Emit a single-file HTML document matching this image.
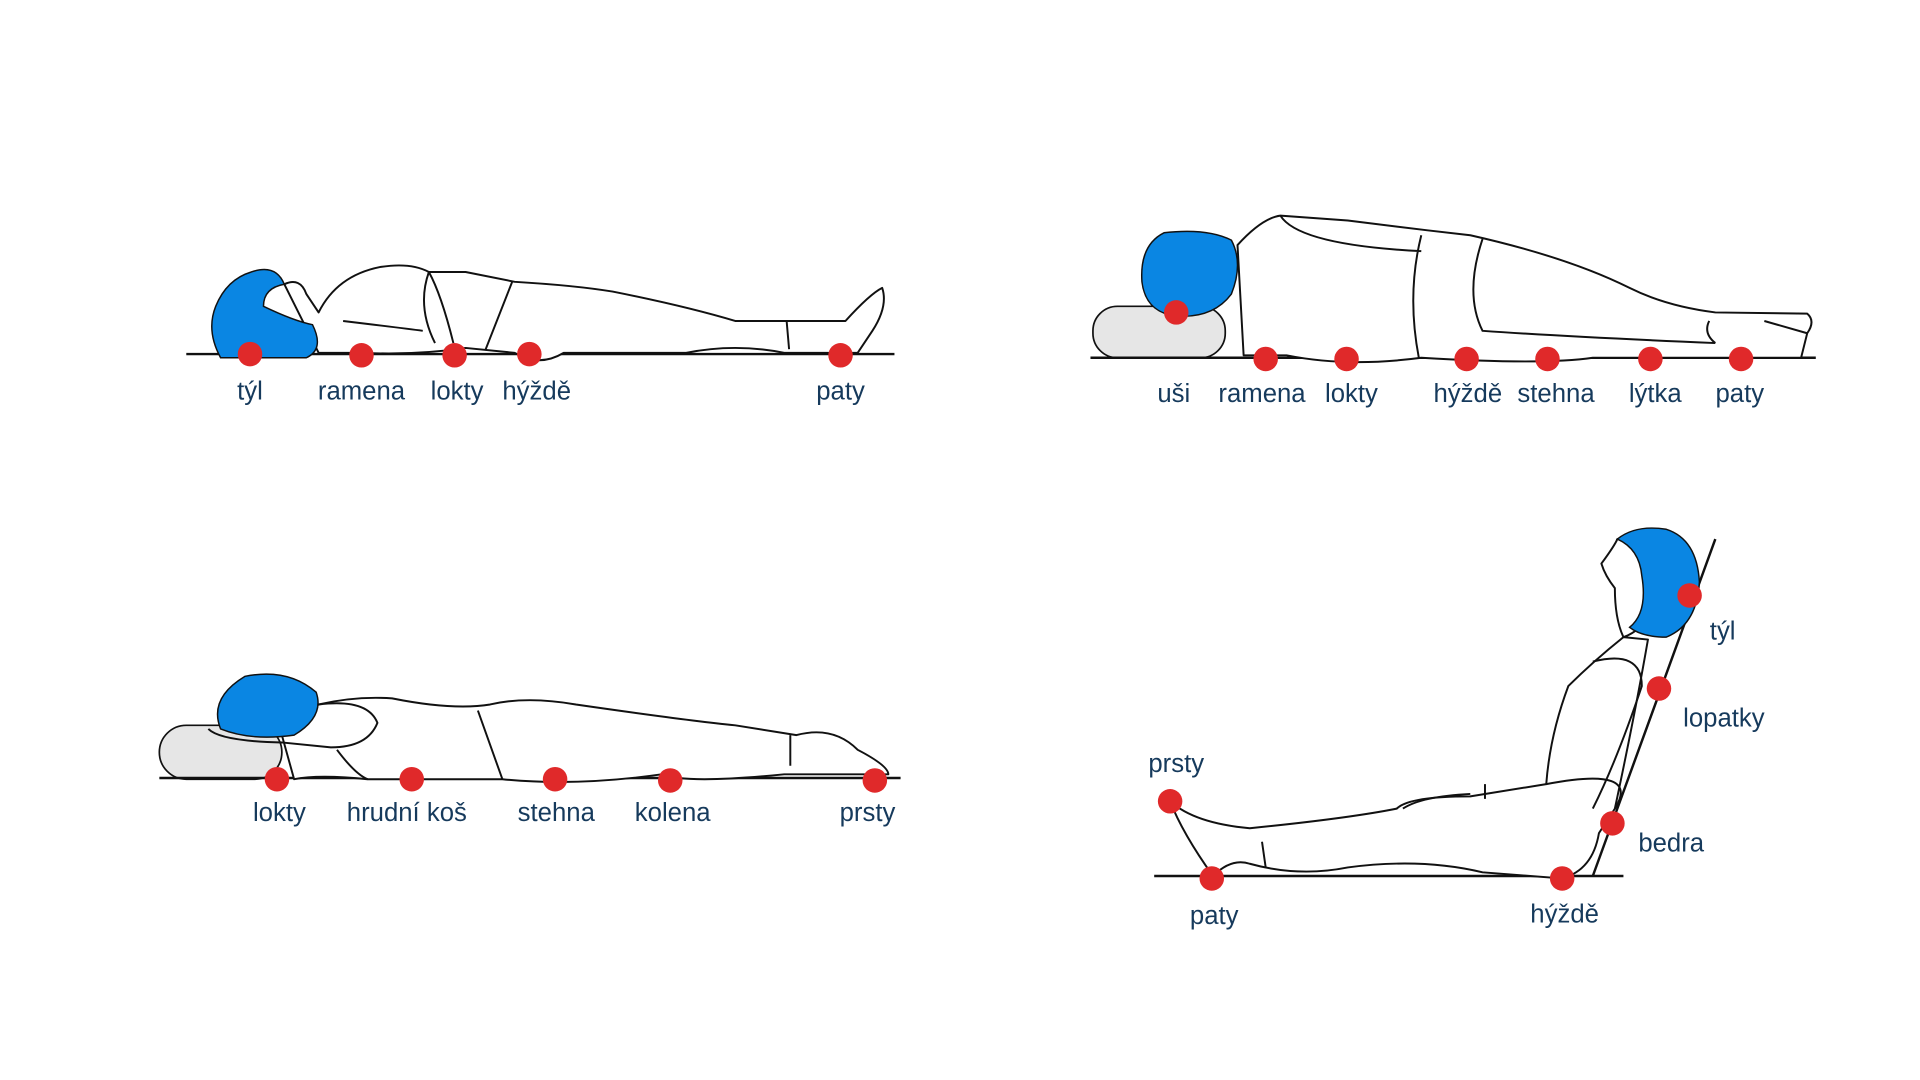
<!DOCTYPE html>
<html><head><meta charset="utf-8"><style>
html,body{margin:0;padding:0;background:#fff;width:1920px;height:1080px;overflow:hidden}
svg{display:block}
text{font-family:"Liberation Sans",sans-serif;font-size:21px;fill:#163a5c;text-anchor:middle}
.o{fill:#fff;stroke:#111;stroke-width:1.6;stroke-linejoin:round}
.l{fill:none;stroke:#111;stroke-width:1.6}
.h{fill:#0a86e3;stroke:#111;stroke-width:1.2}
.d{fill:#e0292a}
.p{fill:#e6e6e6;stroke:#111;stroke-width:1.4}
</style></head><body>
<svg width="1920" height="1080" viewBox="0 0 1567 881.5">
<!-- Panel 1 -->
<line x1="152" y1="289" x2="730" y2="289" stroke="#111" stroke-width="2"/>
<path class="o" d="M232 232 Q245 226 250 240 L260 255 Q275 225 310 218 Q335 214 350 222 L380 222 L420 230 Q470 233 500 238 Q560 250 600 262 L690 262 Q710 240 720 235 Q725 250 712 270 L700 288 L640 288 Q600 280 560 288 L460 288 Q440 300 420 288 L380 284 Q340 290 295 288 L260 288 Z"/>
<path class="l" d="M350 222 Q360 240 370 280 M418 230 L396 286 M642 262 L644 285 M350 222 Q340 250 355 280 M280 262 Q330 268 345 270"/>
<path class="h" d="M205 222 Q225 215 232 232 Q215 235 215 250 Q240 262 255 265 Q265 285 250 292 L180 292 Q168 270 176 250 Q185 228 205 222 Z"/>
<circle class="d" cx="204" cy="289" r="10"/><circle class="d" cx="295" cy="290" r="10"/><circle class="d" cx="371" cy="290" r="10"/><circle class="d" cx="432" cy="289" r="10"/><circle class="d" cx="686" cy="290" r="10"/>
<text x="204" y="326">týl</text><text x="295" y="326">ramena</text><text x="373" y="326">lokty</text><text x="438" y="326">hýždě</text><text x="686" y="326">paty</text>

<!-- Panel 2 -->
<rect class="p" x="892" y="250" width="108" height="42" rx="20"/>
<line x1="890" y1="292" x2="1482" y2="292" stroke="#111" stroke-width="2"/>
<path class="o" d="M1010 200 Q1030 178 1045 176 L1100 180 L1165 188 L1200 192 Q1280 210 1330 235 Q1360 250 1400 255 L1475 256 Q1482 262 1475 272 L1470 292 L1300 292 Q1260 298 1160 292 Q1100 300 1050 290 L1015 290 Z"/>
<path class="l" d="M1045 176 Q1060 200 1160 205 M1160 192 Q1148 240 1158 292 M1210 195 Q1195 240 1210 270 Q1280 275 1400 280 M1395 262 Q1390 272 1400 280 M1440 262 L1475 272"/>
<path class="h" d="M950 190 Q985 186 1005 196 Q1015 215 1005 240 Q990 260 960 258 Q935 255 932 230 Q930 200 950 190 Z"/>
<circle class="d" cx="960" cy="255" r="10"/><circle class="d" cx="1033" cy="293" r="10"/><circle class="d" cx="1099" cy="293" r="10"/><circle class="d" cx="1197" cy="293" r="10"/><circle class="d" cx="1263" cy="293" r="10"/><circle class="d" cx="1347" cy="293" r="10"/><circle class="d" cx="1421" cy="293" r="10"/>
<text x="958" y="328">uši</text><text x="1030" y="328">ramena</text><text x="1103" y="328">lokty</text><text x="1198" y="328">hýždě</text><text x="1270" y="328">stehna</text><text x="1351" y="328">lýtka</text><text x="1420" y="328">paty</text>

<!-- Panel 3 -->
<rect class="p" x="130" y="592" width="100" height="44" rx="22"/>
<line x1="130" y1="635" x2="735" y2="635" stroke="#111" stroke-width="2"/>
<path class="o" d="M260 575 Q290 568 320 570 Q370 580 400 575 Q430 568 470 575 Q560 588 600 592 L650 600 Q680 592 700 612 Q725 625 725 632 L640 632 Q560 640 540 632 Q470 642 410 636 L300 636 Q260 632 240 636 L230 600 Z"/>
<path class="l" d="M260 575 Q300 570 308 590 Q300 610 270 610 L230 606 Q180 605 170 595 M390 580 L410 636 M645 600 L645 625 M275 612 Q290 632 300 636"/>
<path class="h" d="M200 552 Q235 545 258 565 Q265 585 240 600 Q205 605 180 595 Q170 570 200 552 Z"/>
<circle class="d" cx="226" cy="636" r="10"/><circle class="d" cx="336" cy="636" r="10"/><circle class="d" cx="453" cy="636" r="10"/><circle class="d" cx="547" cy="637" r="10"/><circle class="d" cx="714" cy="637" r="10"/>
<text x="228" y="670">lokty</text><text x="332" y="670">hrudní koš</text><text x="454" y="670">stehna</text><text x="549" y="670">kolena</text><text x="708" y="670">prsty</text>

<!-- Panel 4 -->
<line x1="942" y1="715" x2="1325" y2="715" stroke="#111" stroke-width="2"/>
<line x1="1400" y1="440" x2="1300" y2="715" stroke="#111" stroke-width="2"/>
<path class="o" d="M1325 520 Q1300 540 1280 560 Q1265 600 1262 640 L1200 650 Q1150 650 1140 660 Q1100 668 1020 676 Q975 672 955 654 Q965 680 990 715 Q1005 700 1020 705 Q1060 716 1100 708 Q1160 700 1210 712 L1275 717 Q1300 710 1305 680 L1318 660 Q1335 580 1345 522 Z"/>
<path class="l" d="M1262 640 Q1340 625 1318 660 M1300 540 Q1340 530 1340 560 Q1320 620 1300 660 M1030 687 L1033 708 M1212 640 L1212 652 M1145 660 Q1160 650 1200 648"/>
<path class="o" d="M1318 480 Q1310 470 1307 460 Q1318 445 1320 440 L1340 440 L1345 500 Q1340 515 1325 520 Q1318 505 1318 480 Z"/>
<path class="h" d="M1320 440 Q1335 428 1360 432 Q1385 440 1387 475 Q1385 510 1360 520 Q1340 520 1330 512 Q1345 500 1340 470 Q1338 448 1320 440 Z"/>
<circle class="d" cx="1379" cy="486" r="10"/><circle class="d" cx="1354" cy="562" r="10"/><circle class="d" cx="1316" cy="672" r="10"/><circle class="d" cx="1275" cy="717" r="10"/><circle class="d" cx="989" cy="717" r="10"/><circle class="d" cx="955" cy="654" r="10"/>
<text x="1406" y="522">týl</text><text x="1407" y="593">lopatky</text><text x="1364" y="695">bedra</text><text x="1277" y="753">hýždě</text><text x="991" y="754">paty</text><text x="960" y="630">prsty</text>
</svg>
</body></html>
